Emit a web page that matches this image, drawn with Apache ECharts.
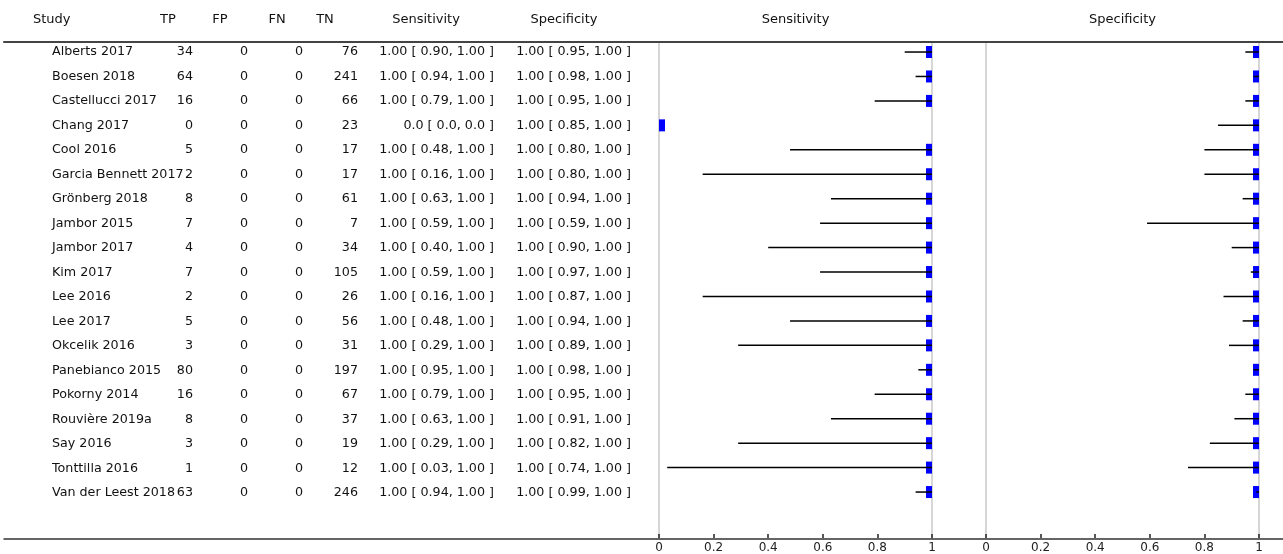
<!DOCTYPE html>
<html><head><meta charset="utf-8">
<script src="https://cdn.jsdelivr.net/npm/echarts@6/dist/echarts.min.js"></script>
<style>html,body{margin:0;padding:0;background:#fff}#c{width:1283px;height:554px}</style>
</head><body><div id="c"></div><script>
// ---------- DATA ----------
const studies = ['Alberts 2017','Boesen 2018','Castellucci 2017','Chang 2017','Cool 2016','Garcia Bennett 2017','Grönberg 2018','Jambor 2015','Jambor 2017','Kim 2017','Lee 2016','Lee 2017','Okcelik 2016','Panebianco 2015','Pokorny 2014','Rouvière 2019a','Say 2016','Tonttilla 2016','Van der Leest 2018'];
const tp = [34,64,16,0,5,2,8,7,4,7,2,5,3,80,16,8,3,1,63];
const fp = [0,0,0,0,0,0,0,0,0,0,0,0,0,0,0,0,0,0,0];
const fn = [0,0,0,0,0,0,0,0,0,0,0,0,0,0,0,0,0,0,0];
const tn = [76,241,66,23,17,17,61,7,34,105,26,56,31,197,67,37,19,12,246];
const sens   = [1,1,1,0,1,1,1,1,1,1,1,1,1,1,1,1,1,1,1];
const sensLo = [0.90,0.94,0.79,0.0,0.48,0.16,0.63,0.59,0.40,0.59,0.16,0.48,0.29,0.95,0.79,0.63,0.29,0.03,0.94];
const sensHi = [1,1,1,0,1,1,1,1,1,1,1,1,1,1,1,1,1,1,1];
const spec   = [1,1,1,1,1,1,1,1,1,1,1,1,1,1,1,1,1,1,1];
const specLo = [0.95,0.98,0.95,0.85,0.80,0.80,0.94,0.59,0.90,0.97,0.87,0.94,0.89,0.98,0.95,0.91,0.82,0.74,0.99];
const specHi = [1,1,1,1,1,1,1,1,1,1,1,1,1,1,1,1,1,1,1];
const tableHeaders = ['Study','TP','FP','FN','TN','Sensitivity','Specificity'];
const plotHeaders = ['Sensitivity','Specificity'];
const axisTicks = [0,0.2,0.4,0.6,0.8,1];

// ---------- LAYOUT ----------
const FONT = '"DejaVu Sans", sans-serif';
const FS = 12.7;
const HFS = 13;
const TOP = 42, H = 497;
const ROW_MIN = -0.41, ROW_MAX = 19.88;
const SENS_LEFT = 659, SPEC_LEFT = 986, PLOT_W = 273;
// table column anchors (pixel x, align)
const colX = [52, 193, 248, 303, 358, 494, 631];
const colAlign = ['left','right','right','right','right','right','right'];
const headX = [33, 168, 220, 277, 325, 426, 564];
const headAlign = ['left','center','center','center','center','center','center'];

function ci(v, lo, hi) {
  const d = (v === 0 && hi === 0) ? 1 : 2;
  return v.toFixed(d) + ' [ ' + lo.toFixed(d) + ', ' + hi.toFixed(d) + ' ]';
}
const rowCells = studies.map((s, i) => [
  s, String(tp[i]), String(fp[i]), String(fn[i]), String(tn[i]),
  ci(sens[i], sensLo[i], sensHi[i]), ci(spec[i], specLo[i], specHi[i])
]);

function txt(text, x, y, align, fs) {
  return { type: 'text', x: x, y: y, style: {
    text: text, font: (fs || FS) + 'px ' + FONT, fill: '#111',
    align: align, verticalAlign: 'middle', textAlign: align, textVerticalAlign: 'middle'
  }};
}

const chart = echarts.init(document.getElementById('c'), null, { renderer: 'canvas' });

function forestItem(params, api) {
  const y = api.value(3);
  const p = api.coord([api.value(0), y]);
  const a = api.coord([api.value(1), y]);
  const b = api.coord([api.value(2), y]);
  const cs = params.coordSys;
  const children = [];
  const r = echarts.graphic.clipRectByRect({ x: p[0] - 6, y: p[1] - 6, width: 12, height: 12 },
    { x: cs.x, y: cs.y, width: cs.width, height: cs.height });
  if (r) children.push({ type: 'rect', shape: r, style: { fill: '#0000ff' } });
  children.push({ type: 'line', shape: { x1: a[0], y1: a[1], x2: b[0], y2: b[1] },
    style: { stroke: '#000', lineWidth: 1.5 } });
  return { type: 'group', children: children };
}

const yBase = { type: 'value', min: ROW_MIN, max: ROW_MAX, inverse: true,
  axisTick: { show: false }, axisLabel: { show: false }, splitLine: { show: false } };
const greyLine = { show: true, onZero: false, lineStyle: { color: '#c8c8c8', width: 1.5 } };
const plotX = (g) => ({ type: 'value', gridIndex: g, min: 0, max: 1, interval: 0.2, position: 'bottom',
  axisLine: { show: false, onZero: false },
  axisTick: { show: true, inside: true, length: 4, lineStyle: { color: '#222', width: 1.5 } },
  axisLabel: { show: true, margin: 4, fontSize: 12, fontFamily: FONT, color: '#222',
    customValues: axisTicks },
  splitLine: { show: false } });

chart.setOption({
  animation: false,
  backgroundColor: '#fff',
  grid: [
    { left: 4, right: 0, top: TOP, height: H },
    { left: SENS_LEFT, width: PLOT_W, top: TOP, height: H },
    { left: SPEC_LEFT, width: PLOT_W, top: TOP, height: H }
  ],
  xAxis: [
    { type: 'value', gridIndex: 0, min: 4, max: 1283, position: 'bottom',
      axisLine: { show: true, onZero: false, lineStyle: { color: '#333', width: 1.5 } },
      axisTick: { show: false }, axisLabel: { show: false }, splitLine: { show: false } },
    { type: 'value', gridIndex: 0, min: 4, max: 1283, position: 'top',
      axisLine: { show: true, onZero: false, lineStyle: { color: '#444', width: 2 } },
      axisTick: { show: false }, axisLabel: { show: false }, splitLine: { show: false } },
    plotX(1),
    plotX(2)
  ],
  yAxis: [
    Object.assign({}, yBase, { gridIndex: 0, axisLine: { show: false } }),
    Object.assign({}, yBase, { gridIndex: 1, position: 'left', axisLine: greyLine }),
    Object.assign({}, yBase, { gridIndex: 1, position: 'right', axisLine: greyLine }),
    Object.assign({}, yBase, { gridIndex: 2, position: 'left', axisLine: greyLine }),
    Object.assign({}, yBase, { gridIndex: 2, position: 'right', axisLine: greyLine })
  ],
  graphic: tableHeaders.map((h, k) => txt(h, headX[k], 20, headAlign[k], HFS))
    .concat(plotHeaders.map((h, k) => txt(h, (k === 0 ? SENS_LEFT : SPEC_LEFT) + PLOT_W / 2, 20, 'center', HFS))),
  series: [
    { type: 'custom', xAxisIndex: 0, yAxisIndex: 0, silent: true,
      data: studies.map((s, i) => [4, i]),
      encode: { x: 0, y: 1 },
      renderItem: function (params, api) {
        const i = params.dataIndex;
        const y = api.coord([4, api.value(1)])[1];
        return { type: 'group', children: rowCells[i].map((t, k) => txt(t, colX[k], y, colAlign[k])) };
      } },
    { type: 'custom', xAxisIndex: 2, yAxisIndex: 1, silent: true, z: 5,
      data: studies.map((s, i) => [sens[i], sensLo[i], sensHi[i], i]),
      encode: { x: [0, 1, 2], y: 3 }, renderItem: forestItem },
    { type: 'custom', xAxisIndex: 3, yAxisIndex: 3, silent: true, z: 5,
      data: studies.map((s, i) => [spec[i], specLo[i], specHi[i], i]),
      encode: { x: [0, 1, 2], y: 3 }, renderItem: forestItem }
  ]
});
</script></body></html>
